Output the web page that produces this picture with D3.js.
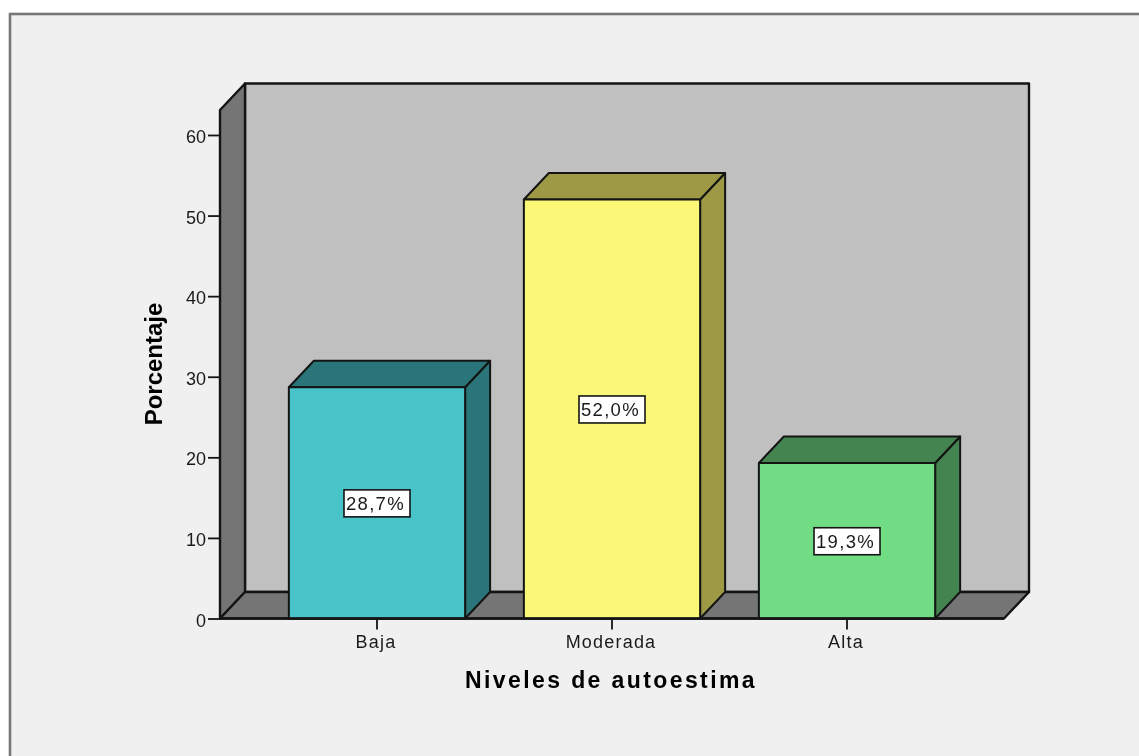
<!DOCTYPE html>
<html><head><meta charset="utf-8">
<script src="https://cdn.jsdelivr.net/npm/d3@7"></script>
<style>
html,body{margin:0;padding:0;background:#fff;overflow:hidden}
svg{display:block;filter:blur(.5px)}
text{font-family:"Liberation Sans",Arial,sans-serif;fill:#1a1a1a}
</style></head><body>
<svg id="c" width="1139" height="756"></svg>
<script>
const categories = ["Baja","Moderada","Alta"];
const percentages = [28.7,52.0,19.3];
const valueLabels = ["28,7%","52,0%","19,3%"];
const frontColors = ["#48c3c8","#fbf877","#70dc84"];
const sideColors = ["#2a7579","#9d9945","#448450"];
const yTicks = [0,10,20,30,40,50,60];
const xTitle = "Niveles de autoestima";
const yTitle = "Porcentaje";

const svg = d3.select("#c");
const dx = 25, dy = 26.5, ink = "#141414";
const x = d3.scaleBand().domain(categories).range([220,1004]).paddingInner(.25).paddingOuter(.293);
const y = d3.scaleLinear().domain([0,63.1]).range([618.5,110]);
const [x0,x1] = x.range(), y0 = y(0), yT = y(63.1);
const poly = (pts,fill,sw=2.4) => svg.append("polygon").attr("points",pts.map(p=>p.join(",")).join(" "))
  .attr("fill",fill).attr("stroke",ink).attr("stroke-width",sw).attr("stroke-linejoin","round");

// frame
svg.append("rect").attr("x",10).attr("y",14).attr("width",1160).attr("height",800)
  .attr("fill","#f0f0f0").attr("stroke","#777").attr("stroke-width",2.6);

// 3D walls
poly([[x0+dx,yT-dy],[x1+dx,yT-dy],[x1+dx,y0-dy],[x0+dx,y0-dy]],"#c0c0c0");
poly([[x0,yT],[x0+dx,yT-dy],[x0+dx,y0-dy],[x0,y0]],"#757575");
poly([[x0,y0],[x0+dx,y0-dy],[x1+dx,y0-dy],[x1,y0]],"#757575");

// bars
const data = categories.map((c,i)=>({c,v:percentages[i],label:valueLabels[i],front:frontColors[i],side:sideColors[i]}));
const w = x.bandwidth();
data.forEach(d=>{
  const l = x(d.c), r = l+w, t = y(d.v);
  poly([[r,t],[r+dx,t-dy],[r+dx,y0-dy],[r,y0]],d.side,2);
  poly([[l,t],[l+dx,t-dy],[r+dx,t-dy],[r,t]],d.side,2);
  poly([[l,t],[r,t],[r,y0],[l,y0]],d.front,2);
});

// value labels
const lab = svg.append("g").selectAll("g").data(data).join("g")
  .attr("transform",d=>`translate(${x(d.c)+w/2},${y(d.v/2)})`);
lab.append("rect").attr("x",-33).attr("y",-13).attr("width",66).attr("height",27)
  .attr("fill","#fff").attr("stroke",ink).attr("stroke-width",1.6);
lab.append("text").attr("x",-31).attr("y",7).attr("font-size",18.5).attr("letter-spacing",1.3)
  .text(d=>d.label);

// axes
const yAxis = svg.append("g").attr("transform",`translate(${x0},0)`)
  .call(d3.axisLeft(y).tickValues(yTicks).tickSize(12).tickPadding(2).tickFormat(d3.format("d")));
yAxis.select(".domain").remove();
yAxis.selectAll(".tick text").attr("dy","0.42em");
const xAxis = svg.append("g").attr("transform",`translate(0,${y0})`)
  .call(d3.axisBottom(x).tickSize(11).tickPadding(6));
xAxis.select(".domain").attr("d",`M${x0},0H${x1}`).attr("stroke",ink).attr("stroke-width",2.4);
svg.selectAll(".tick line").attr("stroke",ink).attr("stroke-width",1.8);
svg.selectAll(".tick text").attr("font-size",18).attr("font-family",'"Liberation Sans",Arial,sans-serif').attr("fill","#1a1a1a");
xAxis.selectAll(".tick text").attr("letter-spacing",1.2).attr("x",-1);

// titles
svg.append("text").attr("x",611).attr("y",687.5).attr("text-anchor","middle")
  .attr("font-size",23).attr("font-weight","bold").attr("letter-spacing",2.4).style("fill","#000").text(xTitle);
svg.append("text").attr("transform","translate(162,364) rotate(-90)").attr("text-anchor","middle")
  .attr("font-size",24).attr("font-weight","bold").style("fill","#000").text(yTitle);
</script></body></html>
